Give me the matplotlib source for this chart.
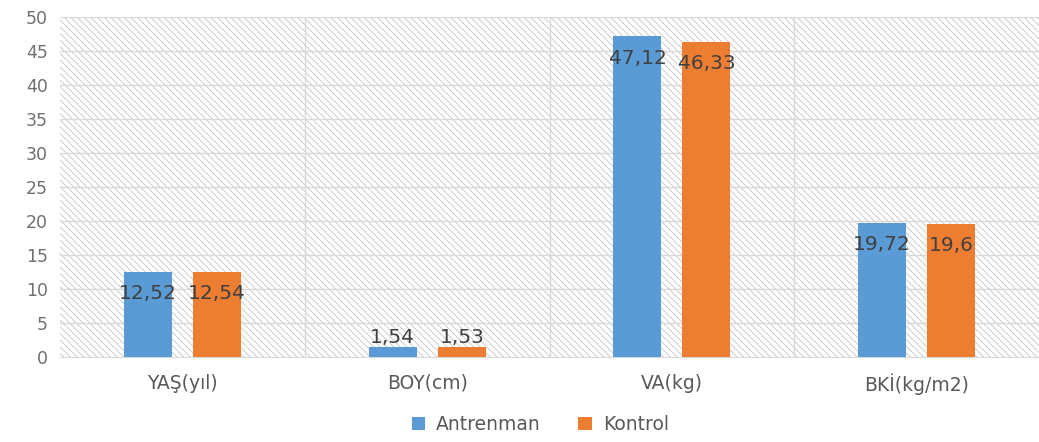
import numpy as np
import matplotlib.pyplot as plt
from matplotlib.patches import Rectangle

plt.rcParams['font.family'] = ['DejaVu Sans']
plt.rcParams['hatch.linewidth'] = 0.6

categories = ['YAŞ(yıl)', 'BOY(cm)', 'VA(kg)', 'BKİ(kg/m2)']
antrenman = [12.52, 1.54, 47.12, 19.72]
kontrol = [12.54, 1.53, 46.33, 19.6]
antrenman_labels = ['12,52', '1,54', '47,12', '19,72']
kontrol_labels = ['12,54', '1,53', '46,33', '19,6']

blue = '#5b9bd5'
orange = '#ed7d31'

fig = plt.figure(figsize=(10.39, 4.42), dpi=100)
ax = fig.add_axes([0.058, 0.192, 0.942, 0.77])

x = np.arange(len(categories))
w = 0.196
off = 0.141

# hatched background of the plot area
ax.add_patch(Rectangle((0, 0), 1, 1, transform=ax.transAxes, facecolor='white',
                       edgecolor='#c4c4c4', hatch='\\\\\\\\\\', linewidth=0, zorder=0))

b1 = ax.bar(x - off, antrenman, w, color=blue, label='Antrenman', zorder=3)
b2 = ax.bar(x + off, kontrol, w, color=orange, label='Kontrol', zorder=3)

for xs, vals, labs in [(x - off, antrenman, antrenman_labels), (x + off, kontrol, kontrol_labels)]:
    for xi, v, t in zip(xs, vals, labs):
        y = v - 3.2 if v > 5 else v + 1.4
        ax.text(xi, y, t, ha='center', va='center', fontsize=14.5, color='#404040', zorder=4)

ax.set_xlim(-0.5, len(categories) - 0.5)
ax.set_ylim(0, 50)
ax.set_yticks(range(0, 51, 5))
ax.set_xticks(x)
ax.set_xticklabels(categories, fontsize=13.5)
ax.tick_params(axis='both', length=0, colors='#595959')
ax.tick_params(axis='y', labelsize=12.5, pad=9, labelcolor='#707070')
ax.tick_params(axis='x', pad=12)

for yv in range(5, 51, 5):
    ax.axhline(yv, color='#d9d9d9', linewidth=1, zorder=1)
for xv in np.arange(0.5, len(categories) - 0.5, 1):
    ax.axvline(xv, color='#d9d9d9', linewidth=1, zorder=1)

for s in ['top', 'right', 'left']:
    ax.spines[s].set_visible(False)
ax.spines['bottom'].set_color('#d9d9d9')

fig.legend(handles=[b1, b2], loc='center', bbox_to_anchor=(0.52, 0.04), ncol=2,
           frameon=False, fontsize=13.5, handlelength=0.7, handleheight=0.7,
           handletextpad=0.6, columnspacing=2.0, labelcolor='#595959')

fig.savefig('out.png', dpi=100)
